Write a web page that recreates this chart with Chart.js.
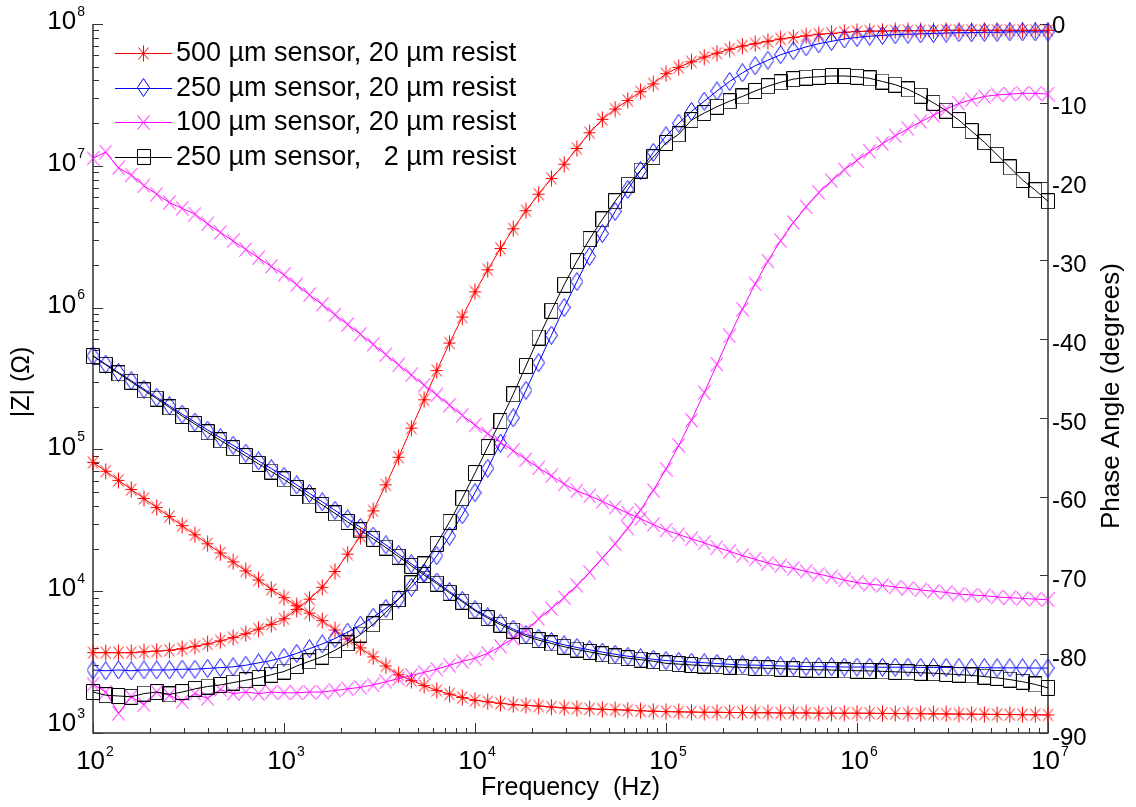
<!DOCTYPE html>
<html><head><meta charset="utf-8">
<script src="https://cdn.jsdelivr.net/npm/chart.js@4/dist/chart.umd.min.js"></script>
<style>html,body{margin:0;padding:0;background:#fff}canvas{display:block}</style>
</head><body>
<canvas id="c" width="1136" height="807"></canvas>
<script>
// ---------------- data ----------------
const freq = [100,116.6,135.9,158.5,184.8,215.4,251.2,292.9,341.5,398.1,464.2,541.2,631,735.6,857.7,
1000,1166,1359,1585,1848,2154,2512,2929,3415,3981,4642,5412,6310,7356,8577,
10000,11660,13590,15850,18480,21540,25120,29290,34150,39810,46420,54120,63100,73560,85770,
100000,116600,135900,158500,184800,215400,251200,292900,341500,398100,464200,541200,631000,735600,857700,
1000000,1166000,1359000,1585000,1848000,2154000,2512000,2929000,3415000,3981000,4642000,5412000,6310000,7356000,8577000,
10000000];

// 500 um sensor, 20 um resist
const z500 = [81000,70200,60500,52200,45100,38900,33600,29000,25000,21600,18600,16100,13900,12000,10300,
9000,7900,7000,6200,5330,4600,3980,3440,2970,2570,2350,2160,2000,1880,1780,
1700,1660,1620,1585,1565,1550,1525,1505,1495,1480,1470,1460,1450,1435,1425,
1415,1410,1405,1400,1400,1395,1395,1390,1390,1385,1385,1385,1380,1380,1380,
1380,1378,1375,1372,1370,1368,1365,1362,1360,1358,1355,1352,1350,1347,1344,1340];
const ph500 = [-79.8,-79.8,-79.8,-79.8,-79.7,-79.6,-79.5,-79.3,-79.0,-78.7,-78.3,-77.9,-77.4,-76.8,-76.2,
-75.5,-74.3,-73.0,-71.5,-69.5,-67.3,-65.0,-61.8,-58.5,-55.0,-51.3,-47.7,-44.0,-40.5,-37.2,
-34.0,-31.2,-28.5,-26.0,-23.7,-21.6,-19.6,-17.8,-15.8,-13.8,-12.1,-10.8,-9.7,-8.6,-7.6,
-6.3,-5.5,-4.8,-4.2,-3.7,-3.2,-2.8,-2.5,-2.2,-1.9,-1.7,-1.5,-1.3,-1.2,-1.05,
-0.95,-0.9,-0.9,-0.85,-0.85,-0.85,-0.85,-0.8,-0.8,-0.8,-0.8,-0.8,-0.8,-0.8,-0.8,-0.8];

// 250 um sensor, 20 um resist
const z250 = [457000,399000,349000,305000,266000,233000,203000,177000,156000,137000,121000,107000,94200,83000,73300,
64600,56200,49000,42700,37200,32400,28200,24500,21200,18200,15600,13400,11600,9950,8590,
7410,6610,5960,5410,4950,4660,4420,4190,4010,3860,3720,3590,3480,3400,3310,
3240,3200,3160,3130,3090,3050,3020,3010,2990,2970,2960,2940,2940,2930,2920,
2920,2920,2910,2910,2910,2900,2900,2900,2890,2890,2890,2880,2880,2880,2870,2870];
const ph250 = [-82.0,-82.1,-82.0,-82.1,-82.0,-82.0,-82.0,-81.9,-81.9,-81.8,-81.7,-81.6,-81.4,-81.1,-80.8,
-80.4,-79.9,-79.3,-78.7,-78.0,-77.2,-76.3,-75.3,-74.2,-73.0,-71.5,-69.7,-67.5,-65.0,-62.3,
-59.5,-56.4,-53.2,-50.0,-46.5,-43.0,-39.5,-36.0,-32.7,-29.5,-26.6,-23.8,-21.0,-18.6,-16.3,
-14.2,-12.6,-11.1,-9.8,-8.5,-7.3,-6.2,-5.3,-4.6,-3.9,-3.4,-2.9,-2.5,-2.2,-1.9,
-1.7,-1.55,-1.45,-1.35,-1.3,-1.25,-1.2,-1.15,-1.1,-1.1,-1.05,-1.05,-1.0,-1.0,-1.0,-1.0];

// 100 um sensor, 20 um resist
const z100 = [11300000,12500000,9660000,8610000,7240000,6310000,5500000,5010000,4570000,3890000,3390000,2950000,2570000,2240000,1950000,
1700000,1450000,1230000,1050000,890000,760000,650000,550000,466000,394000,335000,284000,242000,205000,174000,
148000,129000,112000,98000,85000,74000,65000,57000,51000,47000,43000,39000,35500,32400,29500,
26900,25100,23400,21900,20400,19100,17800,16800,15800,15100,14500,13800,13200,12600,12000,
11500,11200,11000,10700,10500,10200,10000,9800,9550,9400,9300,9100,9000,8900,8800,8700];
const ph100 = [-83.8,-84.8,-87.5,-85.4,-86.4,-84.8,-85.2,-86.0,-85.0,-85.6,-84.5,-85.0,-84.8,-85.0,-84.8,
-84.9,-84.9,-84.8,-84.8,-84.6,-84.4,-84.2,-83.9,-83.5,-83.1,-82.7,-82.3,-81.9,-81.4,-80.9,
-80.5,-79.9,-79.0,-78.0,-77.0,-75.5,-74.2,-72.8,-71.3,-69.6,-67.8,-66.0,-64.0,-61.7,-59.2,
-56.5,-53.5,-50.3,-46.8,-43.2,-39.6,-36.2,-33.0,-30.1,-27.5,-25.2,-23.2,-21.4,-19.9,-18.5,
-17.3,-16.2,-15.2,-14.2,-13.3,-12.4,-11.6,-10.8,-10.1,-9.6,-9.2,-9.0,-8.9,-8.8,-8.8,-8.9];

// 250 um sensor, 2 um resist
const z250t = [455000,395000,344000,300000,261000,228000,198000,172000,151000,132000,116000,102000,89800,79000,69800,
61500,53500,46600,40600,35400,30800,26900,23400,20300,17500,15100,13000,11300,9750,8430,
7280,6460,5810,5270,4820,4520,4280,4060,3880,3730,3590,3470,3370,3290,3210,
3100,3060,3020,2990,2960,2930,2900,2880,2860,2840,2820,2800,2790,2780,2760,
2750,2740,2720,2700,2680,2660,2640,2610,2580,2550,2500,2450,2380,2300,2200,2080];
const ph250t = [-84.8,-85.2,-85.3,-85.4,-85.0,-84.8,-85.1,-84.8,-84.4,-84.1,-83.9,-83.6,-83.3,-83.0,-82.6,
-82.2,-81.5,-80.9,-80.3,-79.5,-78.6,-77.5,-76.2,-74.7,-73.0,-71.0,-68.6,-66.0,-63.2,-60.2,
-57.0,-53.7,-50.4,-47.0,-43.4,-39.8,-36.4,-33.1,-30.1,-27.3,-24.8,-22.5,-20.4,-18.6,-16.9,
-15.1,-14.0,-12.2,-11.3,-10.5,-9.8,-9.2,-8.5,-7.9,-7.4,-7.0,-6.8,-6.7,-6.6,-6.6,
-6.7,-6.9,-7.3,-7.7,-8.3,-9.1,-10.0,-11.0,-12.2,-13.6,-15.0,-16.6,-18.2,-19.8,-21.1,-22.5];

const seriesLabels = ['500 µm sensor, 20 µm resist','250 µm sensor, 20 µm resist','100 µm sensor, 20 µm resist','250 µm sensor,   2 µm resist'];
const xTickExps = [2,3,4,5,6,7];
const yTickExps = [3,4,5,6,7,8];
const phaseTicks = [0,-10,-20,-30,-40,-50,-60,-70,-80,-90];
const xTitle = 'Frequency  (Hz)';
const yTitle = '|Z| (Ω)';
const y2Title = 'Phase Angle (degrees)';

// ---------------- styling ----------------
const FONT = '"Liberation Sans", Arial, Helvetica, sans-serif';
const colors = ['#ff0000','#0000ff','#ff00ff','#000000'];

function makeMarker(kind, color) {
  const dims = {star:[13,17], diamond:[13,19], x:[13,15], square:[14,16]}[kind];
  const c = document.createElement('canvas');
  c.width = dims[0]; c.height = dims[1];
  const g = c.getContext('2d');
  g.strokeStyle = color; g.lineWidth = 1;
  const w = dims[0], h = dims[1];
  g.beginPath();
  if (kind === 'star') {
    g.moveTo(w/2, 0.5); g.lineTo(w/2, h-0.5);
    g.moveTo(0.5, h/2); g.lineTo(w-0.5, h/2);
    g.moveTo(1.5, 2.5); g.lineTo(w-1.5, h-2.5);
    g.moveTo(w-1.5, 2.5); g.lineTo(1.5, h-2.5);
  } else if (kind === 'diamond') {
    g.moveTo(w/2, 0.5); g.lineTo(w-0.5, h/2); g.lineTo(w/2, h-0.5); g.lineTo(0.5, h/2); g.closePath();
  } else if (kind === 'x') {
    g.moveTo(0.5, 0.5); g.lineTo(w-0.5, h-0.5);
    g.moveTo(w-0.5, 0.5); g.lineTo(0.5, h-0.5);
  } else {
    g.rect(0.5, 0.5, w-1, h-1);
  }
  g.stroke();
  return c;
}
const markers = [makeMarker('star',colors[0]), makeMarker('diamond',colors[1]), makeMarker('x',colors[2]), makeMarker('square',colors[3])];

const zSeries = [z500, z250, z100, z250t];
const phSeries = [ph500, ph250, ph100, ph250t];
const orders = [4,3,2,1];
const datasets = [];
zSeries.forEach((arr, s) => {
  datasets.push({
    label: seriesLabels[s] + ' |Z|',
    data: freq.map((f,i) => ({x:f, y:arr[i]})),
    yAxisID: 'y', borderColor: colors[s], borderWidth: 1,
    pointStyle: markers[s], pointRadius: 6, pointBackgroundColor: 'rgba(0,0,0,0)', pointBorderColor: colors[s],
    clip: false, tension: 0, fill: false, order: orders[s]
  });
  datasets.push({
    label: seriesLabels[s] + ' phase',
    data: freq.map((f,i) => ({x:f, y:phSeries[s][i]})),
    yAxisID: 'y2', borderColor: colors[s], borderWidth: 1,
    pointStyle: markers[s], pointRadius: 6, pointBackgroundColor: 'rgba(0,0,0,0)', pointBorderColor: colors[s],
    clip: false, tension: 0, fill: false, order: orders[s]
  });
});

function drawPow(ctx, x, y, exp, align) {
  ctx.font = '26px ' + FONT; const w1 = ctx.measureText('10').width;
  ctx.font = '14px ' + FONT; const w2 = ctx.measureText(String(exp)).width;
  const x0 = align === 'right' ? x - w1 - w2 - 1 : x - (w1 + w2 + 1) / 2;
  ctx.textAlign = 'left'; ctx.textBaseline = 'middle';
  ctx.font = '26px ' + FONT; ctx.fillText('10', x0, y);
  ctx.font = '14px ' + FONT; ctx.fillText(String(exp), x0 + w1 + 1, y - 10);
}

const deco = {
  id: 'deco',
  beforeDraw(chart) {
    const ctx = chart.ctx;
    ctx.save(); ctx.fillStyle = '#fff'; ctx.fillRect(0, 0, chart.width, chart.height); ctx.restore();
  },
  beforeDatasetsDraw(chart) {
    const ctx = chart.ctx, a = chart.chartArea;
    const xs = chart.scales.x, ys = chart.scales.y, ps = chart.scales.y2;
    ctx.save();
    ctx.strokeStyle = '#333'; ctx.lineWidth = 1.5;
    ctx.beginPath();
    ctx.moveTo(a.left, a.top); ctx.lineTo(a.left, a.bottom); ctx.lineTo(a.right, a.bottom); ctx.lineTo(a.right, a.top);
    ctx.stroke();
    ctx.lineWidth = 1; ctx.beginPath();
    for (let e = xTickExps[0]; e <= xTickExps[xTickExps.length-1]; e++) {
      for (let m = 1; m < 10; m++) {
        const v = m * Math.pow(10, e);
        if (v > xs.max * 1.0001) break;
        const px = Math.round(xs.getPixelForValue(v)) + 0.5;
        const len = m === 1 ? 10 : 5;
        ctx.moveTo(px, a.bottom); ctx.lineTo(px, a.bottom - len);
      }
    }
    for (let e = yTickExps[0]; e <= yTickExps[yTickExps.length-1]; e++) {
      for (let m = 1; m < 10; m++) {
        const v = m * Math.pow(10, e);
        if (v > ys.max * 1.0001) break;
        const py = Math.round(ys.getPixelForValue(v)) + 0.5;
        const len = m === 1 ? 10 : 6;
        ctx.moveTo(a.left, py); ctx.lineTo(a.left + len, py);
      }
    }
    phaseTicks.forEach(t => {
      const py = Math.round(ps.getPixelForValue(t)) + 0.5;
      ctx.moveTo(a.right, py); ctx.lineTo(a.right - 8, py);
    });
    ctx.stroke();
    ctx.fillStyle = '#000';
    xTickExps.forEach(e => drawPow(ctx, xs.getPixelForValue(Math.pow(10, e)) + 2, 762, e, 'center'));
    yTickExps.forEach(e => {
      const py = ys.getPixelForValue(Math.pow(10, e));
      drawPow(ctx, 85, py + (e === yTickExps[0] ? -9 : -2), e, 'right');
    });
    ctx.font = '24px ' + FONT; ctx.textAlign = 'left'; ctx.textBaseline = 'middle';
    phaseTicks.forEach(t => {
      const py = ps.getPixelForValue(t);
      ctx.fillText(String(t), a.right + 4, py + (t === 0 ? 2 : 5));
    });
    ctx.font = '25px ' + FONT; ctx.textAlign = 'center'; ctx.textBaseline = 'middle';
    ctx.fillText(xTitle, (a.left + a.right) / 2, 788);
    ctx.save(); ctx.translate(22, 382); ctx.rotate(-Math.PI/2); ctx.fillText(yTitle, 0, 0); ctx.restore();
    ctx.font = '26px ' + FONT;
    ctx.save(); ctx.translate(1112, 396); ctx.rotate(-Math.PI/2); ctx.fillText(y2Title, 0, 0); ctx.restore();
    ctx.restore();
  },
  afterDatasetsDraw(chart) {
    const ctx = chart.ctx;
    ctx.save();
    seriesLabels.forEach((lab, i) => {
      const y = 53 + 34.5 * i;
      ctx.strokeStyle = colors[i]; ctx.lineWidth = 1;
      ctx.beginPath(); ctx.moveTo(115, Math.round(y) + 0.5); ctx.lineTo(172, Math.round(y) + 0.5); ctx.stroke();
      const mk = markers[i];
      ctx.drawImage(mk, Math.round(143.5 - mk.width / 2), Math.round(y - mk.height / 2));
      ctx.fillStyle = '#000'; ctx.font = '27px ' + FONT; ctx.textAlign = 'left'; ctx.textBaseline = 'middle';
      ctx.fillText(lab, 176, y + 1);
    });
    ctx.restore();
  }
};

new Chart(document.getElementById('c').getContext('2d'), {
  type: 'line',
  data: { datasets },
  options: {
    responsive: false, animation: false, devicePixelRatio: 1, events: [],
    layout: { padding: { left: 93, right: 88, top: 24, bottom: 74 } },
    plugins: { legend: { display: false }, tooltip: { enabled: false } },
    scales: {
      x: { type: 'logarithmic', min: 100, max: 1e7, display: false },
      y: { type: 'logarithmic', min: 1e3, max: 1e8, display: false },
      y2: { type: 'linear', min: -90, max: 0, display: false }
    }
  },
  plugins: [deco]
});
</script>
</body></html>
